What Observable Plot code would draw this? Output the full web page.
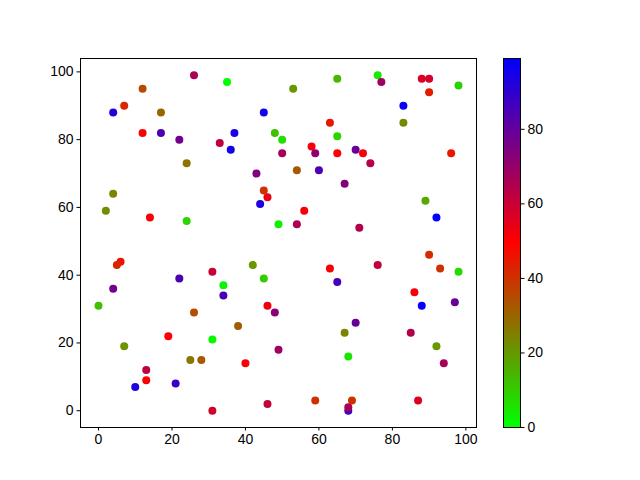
<!DOCTYPE html>
<html><head><meta charset="utf-8">
<script src="https://cdn.jsdelivr.net/npm/d3@7"></script>
<script src="https://cdn.jsdelivr.net/npm/@observablehq/plot@0.6"></script>
<style>
body{margin:0;background:#fff}
#wrap{position:relative;width:640px;height:480px}
#wrap svg{position:absolute;left:0;top:0}
</style>
</head><body><div id="wrap"></div>
<script>
const xs = [26,12,7,4,17,12,17,22,24,4,2,14,24,35,65,53,45,63,37,48,50,65,33,36,58,50,59,65,43,54,60,67,45,46,44,56,49,54,76,77,88,90,98,90,83,83,70,72,96,74,89,92,71,6,5,22,31,4,0,26,19,31,7,25,28,13,13,10,21,31,42,45,34,34,63,65,46,48,38,49,40,67,68,46,59,90,93,98,76,86,88,97,70,85,92,94,69,68,68,87];
const ys = [99,95,90,88,88,82,82,80,73,64,59,57,56,97,98,95,88,85,82,82,80,81,79,77,78,76,76,76,70,71,71,67,65,63,61,59,55,55,99,97,98,98,96,94,90,85,77,76,76,73,62,57,54,44,43,39,41,36,31,29,22,21,19,15,15,12,9,7,8,0,43,39,37,34,42,38,31,29,25,18,14,23,16,2,3,46,42,41,43,35,31,32,26,23,19,14,3,0,1,3];
const cs = [66,35,42,92,30,50,84,77,27,24,22,51,8,0,14,20,95,45,94,12,6,8,62,95,51,67,71,50,74,32,84,74,40,54,93,51,3,65,4,69,57,58,9,44,97,23,79,51,45,63,17,99,64,46,42,84,60,77,12,35,50,1,21,26,32,62,50,93,88,58,20,10,2,85,51,85,52,72,32,68,51,24,5,61,40,41,40,7,61,51,98,79,79,64,20,66,40,87,65,56];
const xTicks = [0,20,40,60,80,100];
const yTicks = [0,20,40,60,80,100];
const cbTicks = [0,20,40,60,80];

const data = xs.map((x,i)=>({x, y: ys[i], c: cs[i]}));
const cMin = d3.min(cs), cMax = d3.max(cs);
const colorScale = {type:"linear", domain:[cMin,(cMin+cMax)/2,cMax], range:["#00ff00","#ff0000","#0000ff"], interpolate:"rgb"};
const font = {fontFamily:"Liberation Sans, Arial, sans-serif", fontSize:"14px", color:"black", background:"transparent", overflow:"visible"};

const main = Plot.plot({
  width:640, height:480,
  marginLeft:80, marginRight:164, marginTop:58, marginBottom:53,
  x:{domain:[-4.9,102.9]},
  y:{domain:[-4.95,103.95]},
  color: colorScale,
  style: font,
  marks:[
    Plot.dot(data,{x:"x", y:"y", fill:"c", r:4}),
    Plot.frame({stroke:"black"}),
    Plot.axisX({ticks:xTicks, tickSize:3.5, tickPadding:3.5, label:null}),
    Plot.axisY({ticks:yTicks, tickSize:3.5, tickPadding:3.5, label:null})
  ]
});

const ramp = d3.range(cMin, cMax, 0.5);
const cbar = Plot.plot({
  width:640, height:480,
  marginLeft:503, marginRight:120, marginTop:58, marginBottom:53,
  x:{domain:[0,1], axis:null},
  y:{domain:[cMin,cMax]},
  color: colorScale,
  style: font,
  marks:[
    Plot.rect(ramp,{x1:0, x2:1, y1:d=>d, y2:d=>Math.min(cMax,d+0.8), fill:d=>d+0.25, inset:0}),
    Plot.frame({stroke:"black"}),
    Plot.axisY({anchor:"right", ticks:cbTicks, tickSize:3.5, tickPadding:3.5, label:null})
  ]
});

const wrap = document.getElementById("wrap");
wrap.appendChild(main);
wrap.appendChild(cbar);
</script>
</body></html>
